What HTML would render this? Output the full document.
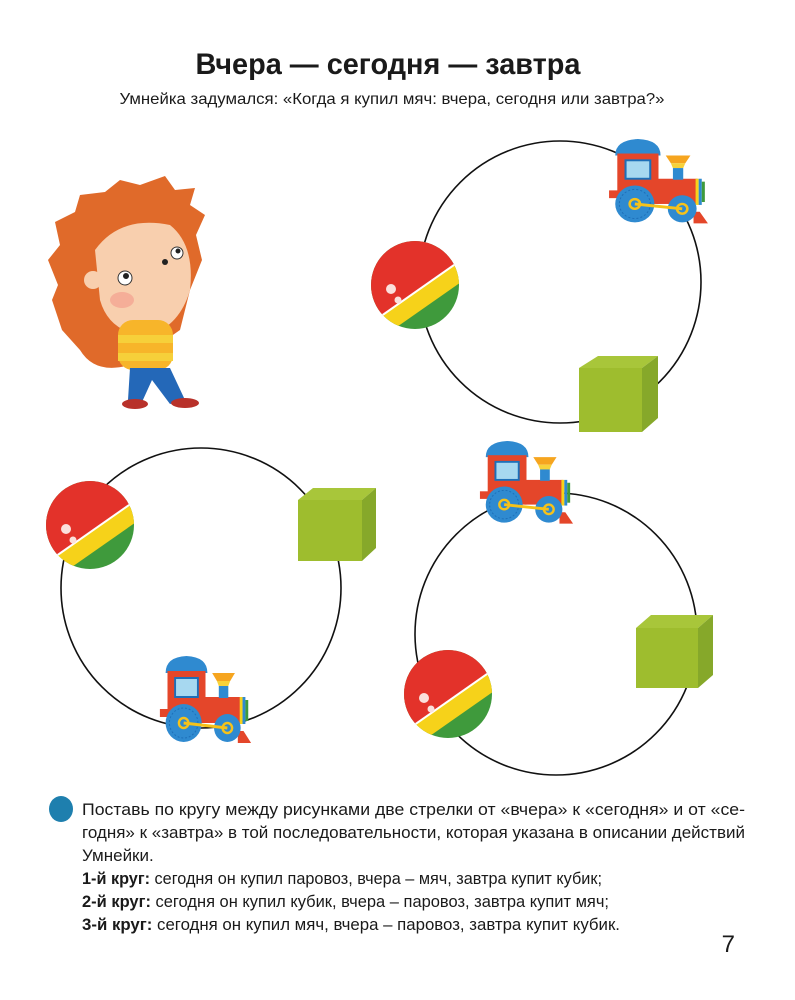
<!DOCTYPE html>
<html><head><meta charset="utf-8"><style>
html,body{margin:0;padding:0;background:#fff;}
svg{display:block;}
text{font-family:"Liberation Sans Narrow","Liberation Sans",sans-serif;fill:#1a1a1a;}
</style></head><body>
<svg width="795" height="1000" viewBox="0 0 795 1000" xmlns="http://www.w3.org/2000/svg">
<defs>
<clipPath id="bc"><circle cx="0" cy="0" r="44"/></clipPath>
<g id="ball">
 <g clip-path="url(#bc)">
  <rect x="-50" y="-50" width="100" height="100" fill="#3f9a3c"/>
  <g transform="rotate(-35)">
   <rect x="-60" y="-60" width="120" height="66" fill="#e3322a"/>
   <rect x="-60" y="6" width="120" height="18" fill="#f6d21a"/>
   <line x1="-60" y1="6" x2="60" y2="6" stroke="#fff" stroke-width="2"/>
  </g>
 </g>
 <circle cx="-24" cy="4" r="5" fill="#fbe0dc"/>
 <circle cx="-17" cy="15" r="3.5" fill="#fbe0dc"/>
</g>
<g id="train">
 <rect x="2" y="54" width="10" height="8" fill="#e4462a"/>
 <path d="M8 18 Q8 2 30 1 Q52 2 52 18 Z" fill="#2f8ad0"/>
 <rect x="10" y="16" width="40" height="52" fill="#e4462a"/>
 <rect x="17" y="22" width="26" height="21" fill="#1e6fb8"/>
 <rect x="19" y="24" width="22" height="17" fill="#a7d8f0"/>
 <rect x="48" y="42" width="40" height="26" fill="#e4462a"/>
 <path d="M57 18 L81 18 L76 26 L62 26 Z" fill="#f6a51f"/>
 <path d="M62 26 L76 26 L74 31 L64 31 Z" fill="#f7d23a"/>
 <rect x="64" y="31" width="10" height="12" fill="#2f8ad0"/>
 <rect x="86" y="42" width="3" height="27" fill="#f6d21a"/>
 <rect x="89" y="42" width="3" height="27" fill="#2f8ad0"/>
 <rect x="92" y="45" width="3" height="21" fill="#3f9a3c"/>
 <path d="M84 76 L90 76 L98 88 L84 88 Z" fill="#e4462a"/>
 <circle cx="27" cy="68" r="19" fill="#2f8ad0"/>
 <circle cx="27" cy="68" r="15" fill="none" stroke="#1e6fb8" stroke-width="1" stroke-dasharray="2 2"/>
 <circle cx="73" cy="73" r="14" fill="#2f8ad0"/>
 <line x1="27" y1="68" x2="73" y2="73" stroke="#f6c21a" stroke-width="3"/>
 <circle cx="27" cy="68" r="5" fill="none" stroke="#f6c21a" stroke-width="2.5"/>
 <circle cx="73" cy="73" r="5" fill="none" stroke="#f6c21a" stroke-width="2.5"/>
</g>
</defs>

<text x="388" y="74" text-anchor="middle" font-size="30" font-weight="bold" style='font-family:"Liberation Sans",sans-serif' textLength="385" lengthAdjust="spacingAndGlyphs">Вчера — сегодня — завтра</text>
<text x="392" y="104" text-anchor="middle" font-size="16" textLength="545" lengthAdjust="spacingAndGlyphs">Умнейка задумался: «Когда я купил мяч: вчера, сегодня или завтра?»</text>

<circle cx="560" cy="282" r="141" fill="none" stroke="#111" stroke-width="1.6"/>
<circle cx="201" cy="588" r="140" fill="none" stroke="#111" stroke-width="1.6"/>
<circle cx="556" cy="634" r="141" fill="none" stroke="#111" stroke-width="1.6"/>

<!-- hedgehog -->
<g>
 <path d="M62 330 L52 300 L58 285 L48 260 L60 245 L55 222 L75 212 L80 195 L105 192 L120 180 L140 185 L165 176 L175 190 L195 188 L190 205 L205 215 L196 235 L202 260 L190 290 L180 330 L130 365 Q95 375 80 350 Z" fill="#e06a2a"/>
 <path d="M95 250 Q120 215 170 225 Q195 245 190 290 Q180 325 150 335 Q110 335 100 300 Z" fill="#f8cfae"/>
 <circle cx="93" cy="280" r="9" fill="#f8cfae"/>
 <circle cx="125" cy="278" r="7" fill="#fff" stroke="#333" stroke-width="1"/>
 <circle cx="126" cy="276" r="3" fill="#222"/>
 <circle cx="177" cy="253" r="6" fill="#fff" stroke="#333" stroke-width="1"/>
 <circle cx="178" cy="251" r="2.5" fill="#222"/>
 <circle cx="165" cy="262" r="3" fill="#222"/>
 <ellipse cx="122" cy="300" rx="12" ry="8" fill="#f3a08e" opacity="0.7"/>
 <rect x="118" y="320" width="55" height="50" rx="15" fill="#f7b52a"/>
 <rect x="118" y="335" width="55" height="8" fill="#f6d03a"/>
 <rect x="118" y="353" width="55" height="8" fill="#f6d03a"/>
 <path d="M130 368 L170 368 L185 400 L170 404 L152 380 L142 402 L128 400 Z" fill="#2468b8"/>
 <ellipse cx="135" cy="404" rx="13" ry="5" fill="#b8312a"/>
 <ellipse cx="185" cy="403" rx="14" ry="5" fill="#b8312a"/>
</g>

<use href="#ball" transform="translate(415,285)"/>
<use href="#ball" transform="translate(90,525)"/>
<use href="#ball" transform="translate(448,694)"/>

<g>
 <path d="M579 368 L598 356 L658 356 L642 368 Z" fill="#a8c63a"/>
 <path d="M642 368 L658 356 L658 418 L642 432 Z" fill="#86a82a"/>
 <rect x="579" y="368" width="63" height="64" fill="#9ebd2e"/>
</g>
<g>
 <path d="M298 500 L313 488 L376 488 L362 500 Z" fill="#a8c63a"/>
 <path d="M362 500 L376 488 L376 548 L362 561 Z" fill="#86a82a"/>
 <rect x="298" y="500" width="64" height="61" fill="#9ebd2e"/>
</g>
<g>
 <path d="M636 628 L651 615 L713 615 L698 628 Z" fill="#a8c63a"/>
 <path d="M698 628 L713 615 L713 675 L698 688 Z" fill="#86a82a"/>
 <rect x="636" y="628" width="62" height="60" fill="#9ebd2e"/>
</g>

<use href="#train" transform="translate(607,138) scale(1.03,0.97)"/>
<use href="#train" transform="translate(478,440) scale(0.97,0.95)"/>
<use href="#train" transform="translate(158,655) scale(0.95,1.0)"/>

<ellipse cx="61" cy="809" rx="12" ry="13" fill="#1e7fae"/>
<g font-size="17">
<text x="82" y="815" textLength="663" lengthAdjust="spacingAndGlyphs">Поставь по кругу между рисунками две стрелки от «вчера» к «сегодня» и от «се-</text>
<text x="82" y="838" textLength="663" lengthAdjust="spacingAndGlyphs">годня» к «завтра» в той последовательности, которая указана в описании действий</text>
<text x="82" y="861">Умнейки.</text>
<text x="82" y="884" textLength="520" lengthAdjust="spacingAndGlyphs"><tspan font-weight="bold">1-й круг:</tspan> сегодня он купил паровоз, вчера – мяч, завтра купит кубик;</text>
<text x="82" y="907" textLength="527" lengthAdjust="spacingAndGlyphs"><tspan font-weight="bold">2-й круг:</tspan> сегодня он купил кубик, вчера – паровоз, завтра купит мяч;</text>
<text x="82" y="930" textLength="538" lengthAdjust="spacingAndGlyphs"><tspan font-weight="bold">3-й круг:</tspan> сегодня он купил мяч, вчера – паровоз, завтра купит кубик.</text>
</g>
<text x="735" y="952" font-size="24" text-anchor="end">7</text>
</svg>
</body></html>
